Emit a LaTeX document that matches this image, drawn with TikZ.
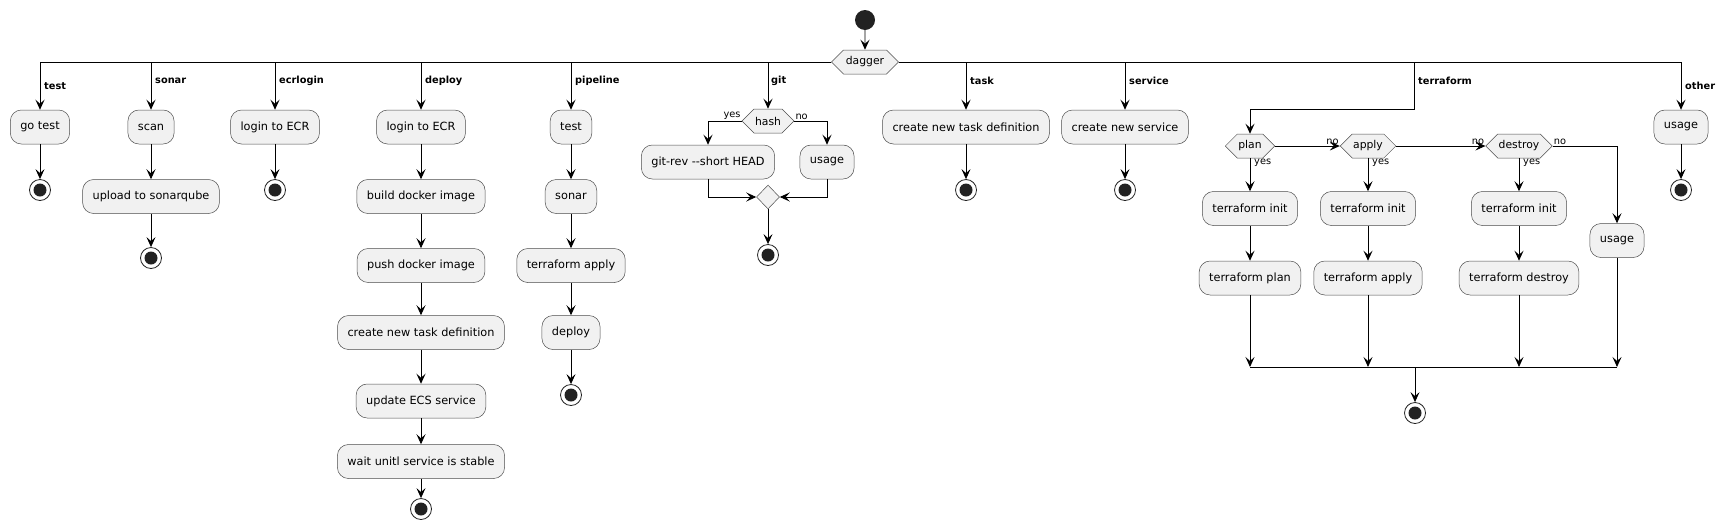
\documentclass[tikz,border=0pt]{standalone}
\usepackage{fontspec}
\setmainfont{DejaVu Sans}
\usetikzlibrary{shapes.geometric,shapes.symbols,arrows.meta}
\definecolor{boxgray}{HTML}{F1F1F1}
\definecolor{dotgray}{HTML}{222222}

\begin{document}
\begin{tikzpicture}[x=1pt,y=-1pt,
    act/.style={draw=black!70,line width=0.5pt,fill=boxgray,rounded corners=11pt,minimum height=34pt,inner xsep=10pt,font=\fontsize{11.3}{13}\selectfont},
    hexa/.style={signal,signal to=east and west,draw=black!70,line width=0.5pt,fill=boxgray,minimum height=24pt,inner xsep=1pt,inner ysep=0pt,font=\fontsize{10.8}{12}\selectfont},
    joindiamond/.style={diamond,draw=black!70,line width=0.5pt,fill=boxgray,minimum width=23pt,minimum height=24pt,inner sep=0pt},
    startdot/.style={circle,fill=dotgray,minimum size=20pt,inner sep=0pt},
    stopdot/.style={circle,draw=dotgray,line width=0.8pt,fill=white,minimum size=21pt,inner sep=0pt,path picture={\fill[dotgray] (path picture bounding box.center) circle (6.5pt);}},
    lbl/.style={anchor=west,font=\bfseries\fontsize{9.8}{11}\selectfont,inner sep=1pt},
    guard/.style={font=\fontsize{9.8}{11}\selectfont,inner sep=1pt},
    arr/.style={line width=0.9pt,-{Stealth[length=10pt,width=9pt,inset=4pt]}}]

    \useasboundingbox (0,0) rectangle (1726,531);

    \node[startdot] (start) at (865,20) {};
    \node[hexa,minimum width=67pt] (dagger) at (865,62) {dagger};
    \draw[arr] (start) -- (dagger);

    % test
    \node[act] (gotest) at (40,127) {go test};
    \node[stopdot] (endtest) at (40,190) {};
    % sonar
    \node[act] (scan) at (151,127) {scan};
    \node[act] (upload) at (151,196.5) {upload to sonarqube};
    \node[stopdot] (endsonar) at (151,258) {};
    % ecrlogin
    \node[act] (ecr) at (275,127) {login to ECR};
    \node[stopdot] (endecr) at (275,190) {};
    % deploy
    \node[act] (dlogin) at (421,127) {login to ECR};
    \node[act] (dbuild) at (421,196.5) {build docker image};
    \node[act] (dpush) at (421,265.5) {push docker image};
    \node[act] (dtask) at (421,332.5) {create new task definition};
    \node[act] (dupdate) at (421,401) {update ECS service};
    \node[act] (dwait) at (421,461.5) {wait unitl service is stable};
    \node[stopdot] (enddeploy) at (421,509) {};
    % pipeline
    \node[act] (ptest) at (571,127) {test};
    \node[act] (psonar) at (571,196.5) {sonar};
    \node[act] (papply) at (571,265.5) {terraform apply};
    \node[act] (pdeploy) at (571,332.5) {deploy};
    \node[stopdot] (endpipe) at (571,395) {};
    % git
    \node[hexa,minimum width=50pt] (hash) at (768,121) {hash};
    \node[act] (gitrev) at (708,162) {git-rev -{}-short HEAD};
    \node[act] (gitusage) at (827,162) {usage};
    \node[joindiamond] (gitjoin) at (768,197) {};
    \node[stopdot] (endgit) at (768,255) {};
    % task
    \node[act] (task) at (966,127) {create new task definition};
    \node[stopdot] (endtask) at (966,190) {};
    % service
    \node[act] (service) at (1125,127) {create new service};
    \node[stopdot] (endservice) at (1125,190) {};
    % terraform
    \coordinate (tfbend) at (1414,109);
    \node[hexa,minimum width=48pt] (plan) at (1250,146) {plan};
    \node[hexa,minimum width=53pt] (apply) at (1368,146) {apply};
    \node[hexa,minimum width=64pt] (destroy) at (1519,146) {destroy};
    \node[act] (initplan) at (1250,208.5) {terraform init};
    \node[act] (tfplan) at (1250,278) {terraform plan};
    \node[act] (initapply) at (1368,208.5) {terraform init};
    \node[act] (tfapply) at (1368,278) {terraform apply};
    \node[act] (initdestroy) at (1519,208.5) {terraform init};
    \node[act] (tfdestroy) at (1519,278) {terraform destroy};
    \node[act] (tfusage) at (1617,240.5) {usage};
    \coordinate (tfjoin) at (1415,367);
    \node[stopdot] (endtf) at (1415,413) {};
    % other
    \node[act] (other) at (1681,127) {usage};
    \node[stopdot] (endother) at (1681,190) {};

    % branches
    \draw[arr] (dagger.west) -| (gotest);
    \draw[arr] (dagger.west) -| (scan);
    \draw[arr] (dagger.west) -| (ecr);
    \draw[arr] (dagger.west) -| (dlogin);
    \draw[arr] (dagger.west) -| (ptest);
    \draw[arr] (dagger.west) -| (hash);
    \draw[arr] (dagger.east) -| (task);
    \draw[arr] (dagger.east) -| (service);
    \draw[arr] (dagger.east) -| (tfbend) -| (plan);
    \draw[arr] (dagger.east) -| (other);

    \node[lbl] (ltest) at (43,86) {test};
    \node[lbl] (lsonar) at (154,81) {sonar};
    \node[lbl] (lecr) at (278,81) {ecrlogin};
    \node[lbl] (ldeploy) at (424,81) {deploy};
    \node[lbl] (lpipe) at (574,81) {pipeline};
    \node[lbl] (lgit) at (770,81) {git};
    \node[lbl] (ltask) at (969,81) {task};
    \node[lbl] (lservice) at (1128,81) {service};
    \node[lbl] (lterra) at (1417,81) {terraform};
    \node[lbl] (lother) at (1684,86) {other};

    % columns
    \draw[arr] (gotest) -- (endtest);
    \draw[arr] (scan) -- (upload);
    \draw[arr] (upload) -- (endsonar);
    \draw[arr] (ecr) -- (endecr);
    \draw[arr] (dlogin) -- (dbuild);
    \draw[arr] (dbuild) -- (dpush);
    \draw[arr] (dpush) -- (dtask);
    \draw[arr] (dtask) -- (dupdate);
    \draw[arr] (dupdate) -- (dwait);
    \draw[arr] (dwait) -- (enddeploy);
    \draw[arr] (ptest) -- (psonar);
    \draw[arr] (psonar) -- (papply);
    \draw[arr] (papply) -- (pdeploy);
    \draw[arr] (pdeploy) -- (endpipe);
    \draw[arr] (task) -- (endtask);
    \draw[arr] (service) -- (endservice);
    \draw[arr] (other) -- (endother);

    % git
    \draw[arr] (hash.west) -| (gitrev);
    \draw[arr] (hash.east) -| (gitusage);
    \node[guard,anchor=south east] (gyes) at (hash.west) {yes};
    \node[guard,anchor=south west] (gno) at (hash.east) {no};
    \draw[arr] (gitrev) |- (gitjoin);
    \draw[arr] (gitusage) |- (gitjoin);
    \draw[arr] (gitjoin) -- (endgit);

    % terraform
    \draw[arr] (plan.south) -- (initplan);
    \draw[arr] (apply.south) -- (initapply);
    \draw[arr] (destroy.south) -- (initdestroy);
    \draw[arr] (plan.east) -- (apply.west);
    \draw[arr] (apply.east) -- (destroy.west);
    \draw[arr] (destroy.east) -| (tfusage);
    \node[guard,anchor=north west] (pyes) at ([xshift=3pt]plan.south) {yes};
    \node[guard,anchor=north west] (ayes) at ([xshift=3pt]apply.south) {yes};
    \node[guard,anchor=north west] (dyes) at ([xshift=3pt]destroy.south) {yes};
    \node[guard,anchor=south east] (ano) at (apply.west) {no};
    \node[guard,anchor=south east] (dno) at (destroy.west) {no};
    \node[guard,anchor=south west] (dno2) at (destroy.east) {no};
    \draw[arr] (initplan) -- (tfplan);
    \draw[arr] (initapply) -- (tfapply);
    \draw[arr] (initdestroy) -- (tfdestroy);
    \draw[arr] (tfplan) -- (tfplan |- tfjoin);
    \draw[arr] (tfapply) -- (tfapply |- tfjoin);
    \draw[arr] (tfdestroy) -- (tfdestroy |- tfjoin);
    \draw[arr] (tfusage) -- (tfusage |- tfjoin);
    \draw[line width=0.9pt] (tfplan |- tfjoin) -- (tfusage |- tfjoin);
    \draw[arr] (tfjoin) -- (endtf);
\end{tikzpicture}
\end{document}
